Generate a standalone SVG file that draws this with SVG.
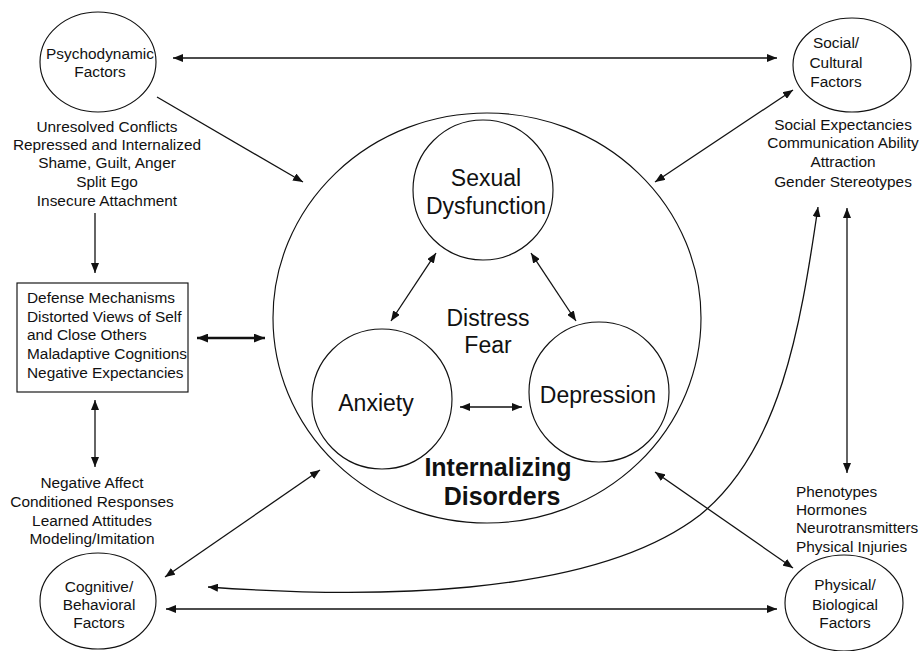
<svg xmlns="http://www.w3.org/2000/svg" width="919" height="651" viewBox="0 0 919 651">
<style>
.s{fill:none;stroke:#111;stroke-width:1.15}
.t{font-family:"Liberation Sans",Arial,sans-serif;font-size:15.4px;fill:#111;text-anchor:middle}
.l{text-anchor:start}
.b{font-size:23px}
.bb{font-size:25px;font-weight:bold}
.c{fill:none;stroke:#111;stroke-width:1.3}
</style>
<defs>
<marker id="a" viewBox="0 0 10 8" refX="10" refY="4" markerWidth="10" markerHeight="8" markerUnits="userSpaceOnUse" orient="auto-start-reverse"><path d="M0,0 L10,4 L0,8 Z" fill="#111"/></marker>
<marker id="at" viewBox="0 0 10 8" refX="10" refY="4" markerWidth="11" markerHeight="9" markerUnits="userSpaceOnUse" orient="auto-start-reverse"><path d="M0,0 L10,4 L0,8 Z" fill="#111"/></marker>
</defs>
<rect width="919" height="651" fill="#fff"/>

<g id="internalizing">
<ellipse class="s" cx="487" cy="318" rx="214" ry="205"/>
<text class="t b" x="488" y="326">Distress</text>
<text class="t b" x="488" y="353">Fear</text>
<text class="t bb" x="498" y="476">Internalizing</text>
<text class="t bb" x="502" y="505">Disorders</text>
</g>
<g id="sexual">
<circle class="s" cx="483" cy="190" r="70"/>
<text class="t b" x="486" y="186">Sexual</text>
<text class="t b" x="486" y="214">Dysfunction</text>
</g>
<g id="anxiety">
<circle class="s" cx="382" cy="399" r="70"/>
<text class="t b" x="376" y="411">Anxiety</text>
</g>
<g id="depression">
<circle class="s" cx="599" cy="392" r="70"/>
<text class="t b" x="598" y="403">Depression</text>
</g>

<g id="psychodynamic">
<ellipse class="s" cx="98" cy="62" rx="58" ry="50"/>
<text class="t" x="100" y="59">Psychodynamic</text>
<text class="t" x="100" y="77">Factors</text>
<text class="t" x="107" y="132">Unresolved Conflicts</text>
<text class="t" x="107" y="150">Repressed and Internalized</text>
<text class="t" x="107" y="168">Shame, Guilt, Anger</text>
<text class="t" x="107" y="187">Split Ego</text>
<text class="t" x="107" y="206">Insecure Attachment</text>
</g>
<g id="mechanisms">
<rect class="s" x="17" y="283" width="171" height="109"/>
<text class="t l" x="27" y="303">Defense Mechanisms</text>
<text class="t l" x="27" y="322">Distorted Views of Self</text>
<text class="t l" x="27" y="340">and Close Others</text>
<text class="t l" x="27" y="359">Maladaptive Cognitions</text>
<text class="t l" x="27" y="378">Negative Expectancies</text>
</g>
<g id="cognitive">
<text class="t" x="92" y="488">Negative Affect</text>
<text class="t" x="92" y="507">Conditioned Responses</text>
<text class="t" x="92" y="526">Learned Attitudes</text>
<text class="t" x="92" y="544">Modeling/Imitation</text>
<ellipse class="s" cx="98" cy="601" rx="58" ry="48"/>
<text class="t" x="99" y="592">Cognitive/</text>
<text class="t" x="99" y="610">Behavioral</text>
<text class="t" x="99" y="628">Factors</text>
</g>
<g id="social">
<ellipse class="s" cx="852" cy="65" rx="59" ry="47"/>
<text class="t" x="836" y="48">Social/</text>
<text class="t" x="836" y="68">Cultural</text>
<text class="t" x="836" y="87">Factors</text>
<text class="t" x="843" y="130">Social Expectancies</text>
<text class="t" x="843" y="148">Communication Ability</text>
<text class="t" x="843" y="167">Attraction</text>
<text class="t" x="843" y="187">Gender Stereotypes</text>
</g>
<g id="physical">
<text class="t l" x="796" y="497">Phenotypes</text>
<text class="t l" x="796" y="515">Hormones</text>
<text class="t l" x="796" y="533">Neurotransmitters</text>
<text class="t l" x="796" y="552">Physical Injuries</text>
<ellipse class="s" cx="844" cy="603" rx="59" ry="48"/>
<text class="t" x="845" y="590">Physical/</text>
<text class="t" x="845" y="610">Biological</text>
<text class="t" x="845" y="628">Factors</text>
</g>

<g id="connectors">
<line class="c" x1="173" y1="58" x2="777" y2="58" marker-start="url(#a)" marker-end="url(#a)"/>
<line class="c" x1="157" y1="97" x2="303" y2="182" marker-end="url(#a)"/>
<line class="c" x1="95" y1="213" x2="95" y2="273" marker-end="url(#a)"/>
<line x1="197" y1="338" x2="265" y2="338" stroke="#111" stroke-width="2.6" marker-start="url(#at)" marker-end="url(#at)"/>
<line class="c" x1="95" y1="400" x2="95" y2="467" marker-start="url(#a)" marker-end="url(#a)"/>
<line class="c" x1="165" y1="577" x2="320" y2="470" marker-start="url(#a)" marker-end="url(#a)"/>
<line class="c" x1="166" y1="609" x2="777" y2="609" marker-start="url(#a)" marker-end="url(#a)"/>
<path class="c" d="M208,587 C360,598 590,600 700,515 C780,450 800,330 818,207" marker-start="url(#a)" marker-end="url(#a)"/>
<line class="c" x1="655" y1="182" x2="793" y2="90" marker-start="url(#a)" marker-end="url(#a)"/>
<line class="c" x1="847" y1="208" x2="847" y2="473" marker-start="url(#a)" marker-end="url(#a)"/>
<line class="c" x1="655" y1="472" x2="793" y2="568" marker-start="url(#a)" marker-end="url(#a)"/>
<line class="c" x1="436" y1="253" x2="391" y2="321" marker-start="url(#a)" marker-end="url(#a)"/>
<line class="c" x1="531" y1="253" x2="576" y2="321" marker-start="url(#a)" marker-end="url(#a)"/>
<line class="c" x1="460" y1="407" x2="522" y2="407" marker-start="url(#a)" marker-end="url(#a)"/>
</g>
</svg>
